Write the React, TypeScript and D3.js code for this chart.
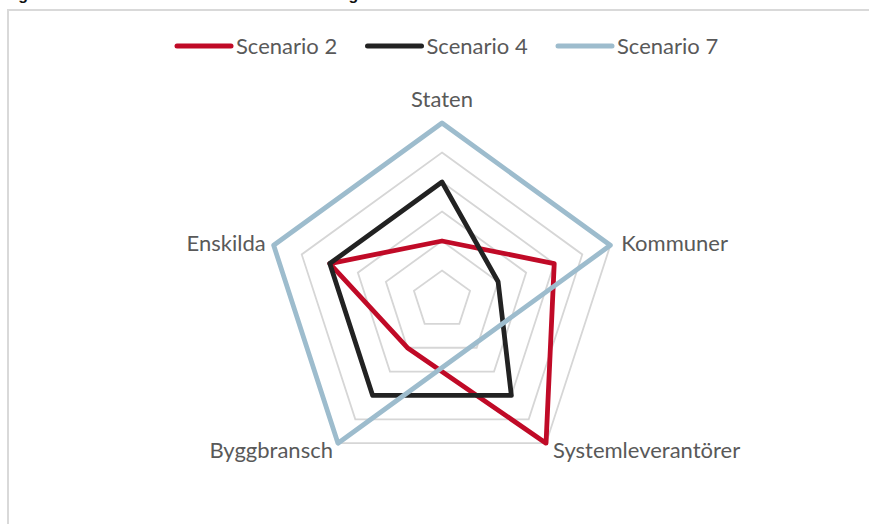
import React, { useEffect, useRef } from "react";
import * as d3 from "d3";

const axes = ["Staten", "Kommuner", "Systemleverantörer", "Byggbransch", "Enskilda"];
const seriesNames = ["Scenario 2", "Scenario 4", "Scenario 7"];
const scenario2 = [2, 4, 6, 2, 4];
const scenario4 = [4, 2, 4, 4, 4];
const scenario7 = [6, 6, null, 6, 6];
const ringLevels = [1, 2, 3, 4, 5, 6];
const caption = "Figur 4. Aktörernas roll i den nationella strategin";

const colors = ["#c00a27", "#222222", "#9dbccd"];
const width = 869;
const height = 524;
const cx = 442;
const cy = 300;
const radius = 177;
const font = "Lato, 'Liberation Sans', sans-serif";

export default function App() {
  const ref = useRef<SVGSVGElement>(null);

  useEffect(() => {
    const svg = d3.select(ref.current);
    svg.selectAll("*").remove();

    // caption, cut off by the top edge (only descenders show)
    svg.append("text")
      .attr("x", 4)
      .attr("y", -0.5)
      .attr("font-family", "'Liberation Sans', sans-serif")
      .attr("font-weight", "bold")
      .attr("font-size", 16)
      .attr("fill", "#111")
      .text(caption);

    svg.append("path")
      .attr("d", "M8," + height + "V10H" + width)
      .attr("fill", "none")
      .attr("stroke", "#d9d9d9")
      .attr("stroke-width", 2);

    const r = d3.scaleLinear().domain([0, 6]).range([0, radius]);
    const angle = d3.scaleLinear().domain([0, axes.length]).range([0, 2 * Math.PI]);

    const g = svg.append("g")
      .attr("transform", "translate(" + cx + "," + cy + ")");

    // grid rings
    const ring = d3.lineRadial<number>()
      .angle(function(d, i) { return angle(i); })
      .radius(function(d) { return r(d); })
      .curve(d3.curveLinearClosed);

    g.selectAll(".ring")
      .data(ringLevels)
      .enter().append("path")
      .attr("class", "ring")
      .attr("d", function(lv) { return ring(axes.map(function() { return lv; })); })
      .attr("fill", "none")
      .attr("stroke", "#d6d6d6")
      .attr("stroke-width", 1.8);

    // series, empty cells are skipped and the neighbours joined
    const all = [scenario2, scenario4, scenario7];
    const line = d3.lineRadial<{ v: number; i: number }>()
      .angle(function(d) { return angle(d.i); })
      .radius(function(d) { return r(d.v); })
      .curve(d3.curveLinearClosed);

    g.selectAll(".series")
      .data(all)
      .enter().append("path")
      .attr("class", "series")
      .attr("d", function(vals) {
        const pts = vals
          .map(function(v, i) { return { v: v as number, i: i }; })
          .filter(function(d) { return d.v !== null; });
        return line(pts);
      })
      .attr("fill", "none")
      .attr("stroke", function(d, i) { return colors[i]; })
      .attr("stroke-width", 4.8)
      .attr("stroke-linejoin", "round");

    // axis labels
    const labelPos = [
      { dx: 0, dy: -16, anchor: "middle" },
      { dx: 11, dy: 6, anchor: "start" },
      { dx: 7, dy: 15, anchor: "start" },
      { dx: -5, dy: 15, anchor: "end" },
      { dx: -8, dy: 6, anchor: "end" },
    ];

    g.selectAll(".label")
      .data(axes)
      .enter().append("text")
      .attr("class", "label")
      .attr("x", function(d, i) { return r(6) * Math.sin(angle(i)) + labelPos[i].dx; })
      .attr("y", function(d, i) { return -r(6) * Math.cos(angle(i)) + labelPos[i].dy; })
      .attr("text-anchor", function(d, i) { return labelPos[i].anchor; })
      .attr("font-family", font)
      .attr("font-size", 22)
      .attr("fill", "#595959")
      .text(function(d) { return d; });

    // legend
    const legend = svg.selectAll(".legend")
      .data(seriesNames)
      .enter().append("g")
      .attr("class", "legend")
      .attr("transform", function(d, i) { return "translate(" + (175 + i * 190.5) + ",46)"; });

    legend.append("line")
      .attr("x1", 2)
      .attr("x2", 56)
      .attr("stroke", function(d, i) { return colors[i]; })
      .attr("stroke-width", 5)
      .attr("stroke-linecap", "round");

    legend.append("text")
      .attr("x", 61)
      .attr("y", 7.5)
      .attr("font-family", font)
      .attr("font-size", 22)
      .attr("fill", "#595959")
      .text(function(d) { return d; });
  }, []);

  return (
    <div style={{ position: "absolute", left: 0, top: 0 }}>
      <svg ref={ref} width={width} height={height} style={{ display: "block", background: "#fff" }}></svg>
    </div>
  );
}
